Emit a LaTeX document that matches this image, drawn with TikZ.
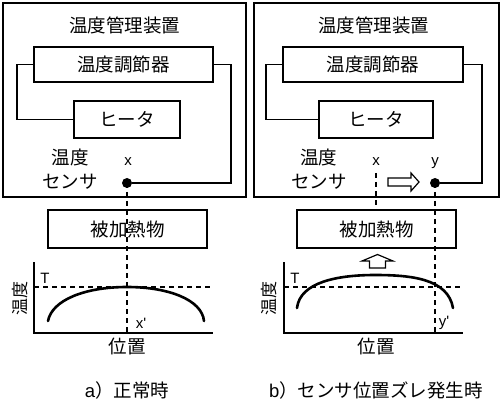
\documentclass[tikz,border=0pt]{standalone}
\usepackage{fontspec}
\setmainfont{Noto Sans CJK JP}
\newfontfamily\latfont{Liberation Sans}
\usepackage{tikz}
\usetikzlibrary{positioning,calc}
\newcommand{\jpsize}{\fontsize{18.5pt}{22pt}\selectfont}
\newcommand{\ltsize}{\latfont\fontsize{15pt}{17pt}\selectfont}

\begin{document}
\begin{tikzpicture}[
    x=1pt, y=-1pt,
    panel/.style={rectangle, draw, line width=1.2pt, minimum width=243pt, minimum height=194pt, inner sep=0pt},
    unit/.style={rectangle, draw, line width=2.4pt, minimum height=35pt, inner sep=0pt, font=\jpsize},
    txt/.style={inner sep=0pt, font=\jpsize},
    let/.style={inner sep=0pt, font=\ltsize},
    sdot/.style={circle, fill, inner sep=0pt, minimum size=10pt},
    wire/.style={line width=1.6pt},
    guide/.style={line width=1.4pt, dash pattern=on 5pt off 4pt},
    axis/.style={line width=1.3pt},
    curve/.style={line width=2.6pt, line cap=round},
    hollow/.style={line width=1.2pt, fill=white, line join=miter}
]
\useasboundingbox (0,0) rectangle (501,401);

% a) normal
\node[panel] (panA) at (124.5,100) {};
\node[txt] (titA) at (124.5,25) {温度管理装置};
\node[unit, minimum width=179pt] (ctlA) at (123.5,64.5) {温度調節器};
\node[unit, minimum width=106pt, minimum height=37pt] (htrA) at (127,119.5) {ヒータ};
\node[txt] (tmpA) at (70,157) {温度};
\node[txt] (sensA) at (70,182) {センサ};
\node[let] (xA) at (128,162) {x};
\coordinate (xpA) at (127,333);
\draw[guide] (127,183) -- (xpA);
\node[sdot] (senA) at (127,183) {};
\draw[wire] (ctlA.west) -- ++(-16,0) |- (htrA.west);
\draw[wire] (ctlA.east) -- ++(17,0) |- (senA);
\node[unit, minimum width=159pt, minimum height=38pt] (objA) at (127.5,229) {被加熱物};

\draw[axis] (34,262) -- (34,333) -- (213,333);
\draw[guide] (34,287) -- (213,287);
\node[let] (tA) at (45,278) {T};
\node[txt, rotate=90, font=\fontsize{17pt}{20pt}\selectfont] (vtA) at (20,298) {温度};
\draw[curve] (48,321) .. controls (52,300) and (85,287) .. (127,287)
    .. controls (169,287) and (202,300) .. (204,321);
\node[let] (xpAl) at (141,323) {x'};
\node[txt] (posA) at (127,347) {位置};
\node[txt] (capA) at (127,390) {{\latfont a}）正常時};

% b) sensor shifted
\node[panel, minimum width=245pt] (panB) at (376.5,100) {};
\node[txt] (titB) at (373.5,25) {温度管理装置};
\node[unit, minimum width=180pt] (ctlB) at (373,64.5) {温度調節器};
\node[unit, minimum width=114pt, minimum height=37pt] (htrB) at (376,119.5) {ヒータ};
\node[txt] (tmpB) at (318.5,157) {温度};
\node[txt] (sensB) at (319,182) {センサ};
\node[let] (xB) at (376,162) {x};
\node[let] (yB) at (435,163) {y};
\coordinate (ypB) at (435,333);
\draw[guide] (435,183) -- (ypB);
\node[sdot] (senB) at (435,183) {};
\draw[wire] (ctlB.west) -- ++(-16,0) |- (htrB.west);
\draw[wire] (ctlB.east) -- ++(18,0) |- (senB);
\draw[hollow] (388,178) -- (411,178) -- (411,173) -- (419,182) -- (411,191)
    -- (411,186) -- (388,186) -- cycle;
\node[unit, minimum width=159pt, minimum height=38pt] (objB) at (376.5,229) {被加熱物};
\draw[guide] (376,173) -- (376,210);

\draw[hollow] (369.5,268) -- (369.5,261) -- (362,261) -- (377.5,254.5) -- (393,261)
    -- (385.5,261) -- (385.5,268) -- cycle;
\draw[axis] (284,262) -- (284,333) -- (463,333);
\draw[guide] (284,287) -- (463,287);
\node[let] (tB) at (295,278) {T};
\node[txt, rotate=90, font=\fontsize{17pt}{20pt}\selectfont] (vtB) at (269,298) {温度};
\draw[curve] (297,308) .. controls (300,282) and (338,275) .. (375,275)
    .. controls (412,275) and (448,279) .. (453,308);
\node[let] (ypBl) at (444,323) {y'};
\node[txt] (posB) at (376,347) {位置};
\node[txt] (capB) at (376,390) {{\latfont b}）センサ位置ズレ発生時};
\end{tikzpicture}
\end{document}
